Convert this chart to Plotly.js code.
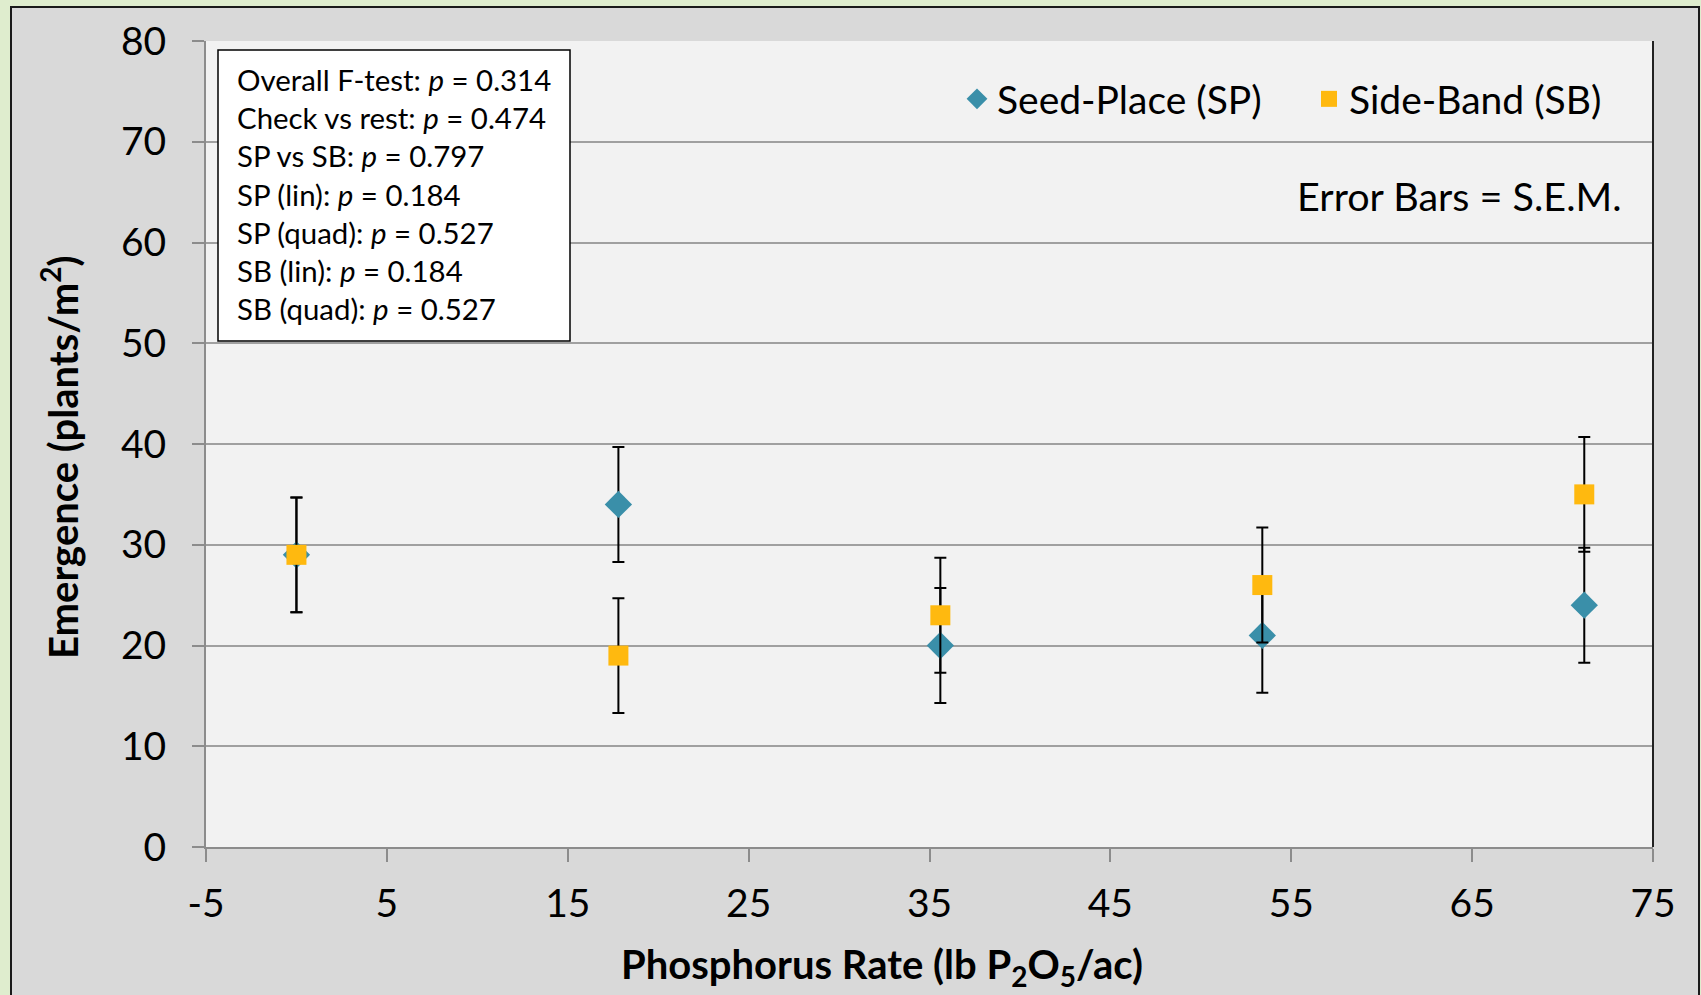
<!DOCTYPE html>
<html>
<head>
<meta charset="utf-8">
<script src="https://cdn.plot.ly/plotly-3.0.1.min.js"></script>
<style>
  html, body { margin: 0; padding: 0; background: #dfedce; }
  #chart { width: 1701px; height: 995px; }
</style>
</head>
<body>
<div id="chart"></div>
<script>
// ---- Data ----
const rates = [0, 17.8, 35.6, 53.4, 71.2];            // lb P2O5/ac
const seedPlace = [29, 34, 20, 21, 24];               // plants/m2
const sideBand = [29, 19, 23, 26, 35];                // plants/m2
const seedPlaceSEM = [5.7, 5.7, 5.7, 5.7, 5.7];
const sideBandSEM = [5.7, 5.7, 5.7, 5.7, 5.7];
const seriesNames = ['Seed-Place (SP)', 'Side-Band (SB)'];
const xTickVals = [-5, 5, 15, 25, 35, 45, 55, 65, 75];
const xTickLabels = ['-5', '5', '15', '25', '35', '45', '55', '65', '75'];
const yTickVals = [0, 10, 20, 30, 40, 50, 60, 70, 80];
const yTickLabels = ['0', '10', '20', '30', '40', '50', '60', '70', '80'];
const statsLines = [
  'Overall F-test: <i>p</i> = 0.314',
  'Check vs rest: <i>p</i> = 0.474',
  'SP vs SB: <i>p</i> = 0.797',
  'SP (lin): <i>p</i> = 0.184',
  'SP (quad): <i>p</i> = 0.527',
  'SB (lin): <i>p</i> = 0.184',
  'SB (quad): <i>p</i> = 0.527'
];
const errorNote = 'Error Bars = S.E.M.';
const xTitle = '<b>Phosphorus Rate (lb P<sub>2</sub>O<sub>5</sub>/ac)</b>';
const yTitle = '<b>Emergence (plants/m<sup>2</sup>)</b>';

// ---- Layout geometry (pixels) ----
const W = 1701, H = 995;
const L = 206, R = 1653, T = 41, B = 847;
const pw = R - L, ph = B - T;
const px = x => (x - L) / pw;
const py = y => (B - y) / ph;

const FONT = 'Lato, "Open Sans", sans-serif';

const errStyle = { type: 'data', visible: true, color: '#000000', thickness: 2, width: 6 };

const traces = [
  {
    type: 'scatter', mode: 'markers', name: seriesNames[0],
    x: rates, y: seedPlace,
    error_y: Object.assign({ array: seedPlaceSEM }, errStyle),
    marker: { symbol: 'diamond', size: 21, color: '#3a8fa9', line: { width: 0 } }
  },
  {
    type: 'scatter', mode: 'markers', name: seriesNames[1],
    x: rates, y: sideBand,
    error_y: Object.assign({ array: sideBandSEM }, errStyle),
    marker: { symbol: 'square', size: 20, color: '#ffb90f', line: { width: 0 } }
  }
];

const layout = {
  width: W, height: H,
  margin: { l: L, r: W - R, t: T, b: H - B, pad: 0 },
  paper_bgcolor: '#dfedce',
  plot_bgcolor: '#f2f2f2',
  font: { family: FONT, color: '#000000', size: 39 },
  showlegend: true,
  legend: {
    orientation: 'h', x: px(1661), xanchor: 'right', y: py(67), yanchor: 'top',
    bgcolor: 'rgba(0,0,0,0)', font: { family: FONT, size: 39, color: '#000' },
    entrywidth: 307, entrywidthmode: 'pixels'
  },
  xaxis: {
    range: [-5, 75], tickmode: 'array', tickvals: xTickVals, ticktext: xTickLabels,
    showgrid: false, zeroline: false,
    showline: true, linecolor: '#8c8c8c', linewidth: 2,
    ticks: 'outside', ticklen: 13, tickwidth: 2, tickcolor: '#8c8c8c',
    tickfont: { family: FONT, size: 39, color: '#000' },
    ticklabelstandoff: 8
  },
  yaxis: {
    range: [0, 80], tickmode: 'array', tickvals: yTickVals, ticktext: yTickLabels,
    showgrid: true, gridcolor: '#a0a0a0', gridwidth: 2, zeroline: false,
    showline: true, linecolor: '#8c8c8c', linewidth: 2,
    ticks: 'outside', ticklen: 12, tickwidth: 2, tickcolor: '#8c8c8c',
    tickfont: { family: FONT, size: 39, color: '#000' },
    ticklabelstandoff: 18
  },
  shapes: [
    { type: 'rect', xref: 'paper', yref: 'paper', layer: 'below',
      x0: px(11), x1: px(1699), y0: py(1010), y1: py(7),
      fillcolor: '#d9d9d9', line: { color: '#1a1a1a', width: 2 } },
    { type: 'rect', xref: 'paper', yref: 'paper', layer: 'below',
      x0: 0, x1: 1, y0: 0, y1: 1,
      fillcolor: '#f2f2f2', line: { width: 0 } },
    { type: 'line', xref: 'paper', yref: 'paper', layer: 'above',
      x0: 1, x1: 1, y0: 0, y1: 1, line: { color: '#222', width: 2 } },
    { type: 'rect', xref: 'paper', yref: 'paper', layer: 'above',
      x0: px(218), x1: px(570), y0: py(341), y1: py(50),
      fillcolor: '#ffffff', line: { color: '#000', width: 1.5 } }
  ],
  annotations: [
    { xref: 'paper', yref: 'paper', x: px(235), y: py(194), xanchor: 'left', yanchor: 'middle',
      align: 'left', showarrow: false, text: statsLines.join('<br>'),
      font: { family: FONT, size: 29.4, color: '#000' } },
    { xref: 'paper', yref: 'paper', x: px(1624), y: py(195), xanchor: 'right', yanchor: 'middle',
      showarrow: false, text: errorNote, font: { family: FONT, size: 39.5, color: '#000' } },
    { xref: 'paper', yref: 'paper', x: px(882), y: py(966), xanchor: 'center', yanchor: 'middle',
      showarrow: false, text: xTitle, font: { family: FONT, size: 40, color: '#000' } },
    { xref: 'paper', yref: 'paper', x: px(60), y: py(457), xanchor: 'center', yanchor: 'middle',
      textangle: -90, showarrow: false, text: yTitle, font: { family: FONT, size: 40, color: '#000' } }
  ]
};

Plotly.newPlot('chart', traces, layout, { displayModeBar: false, staticPlot: true });
</script>
</body>
</html>
